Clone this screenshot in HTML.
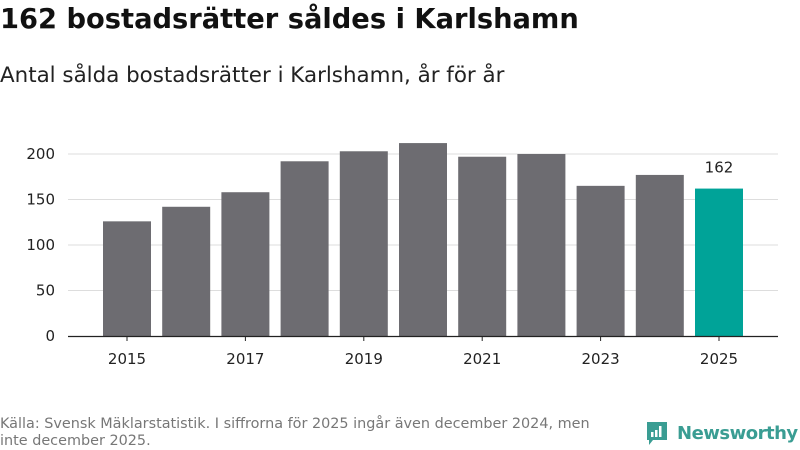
<!DOCTYPE html>
<html><head><meta charset="utf-8"><style>
body{margin:0;width:800px;height:450px;background:#fff;font-family:"DejaVu Sans","Liberation Sans",sans-serif;overflow:hidden;position:relative}
h1{position:absolute;left:0;top:4px;margin:0;font-size:27.3px;font-weight:bold;color:#111}
h2{position:absolute;left:0;top:63px;margin:0;font-size:21.4px;font-weight:normal;color:#222}
.src{position:absolute;left:0;top:416px;font-size:14.4px;color:#777;line-height:17px;width:640px;white-space:nowrap}
.logo{position:absolute;left:645px;top:420px;display:flex;align-items:center;color:#3a9d93;font-size:18px;font-weight:bold;letter-spacing:-0.5px}
</style></head><body>
<h1>162 bostadsrätter såldes i Karlshamn</h1>
<h2>Antal sålda bostadsrätter i Karlshamn, år för år</h2>
<svg id="chart" width="800" height="400" style="position:absolute;left:0;top:0"></svg>
<div class="src">Källa: Svensk Mäklarstatistik. I siffrorna för 2025 ingår även december 2024, men<br>inte december 2025.</div>
<div class="logo"><svg width="24" height="26" viewBox="0 0 24 26"><path d="M2 2h20v18H8l-4 5v-5H2z" fill="#3a9d93"/><rect x="6" y="12" width="2.5" height="5" fill="#fff"/><rect x="10" y="10" width="2.5" height="7" fill="#fff"/><rect x="14" y="6" width="2.5" height="11" fill="#fff"/></svg><span style="margin-left:8px">Newsworthy</span></div>
<script>
const years=[2015,2016,2017,2018,2019,2020,2021,2022,2023,2024,2025];
const values=[126,142,158,192,203,212,197,200,165,177,162];
const yTicks=[0,50,100,150,200];
const xLabels=[2015,2017,2019,2021,2023,2025];
const svg=document.getElementById('chart');
const NS='http://www.w3.org/2000/svg';
const y0=336,ppu=0.91,x0=127,step=59.2,bw=48;
const yS=v=>y0-v*ppu, xS=i=>x0+i*step;
function mk(t,a){const e=document.createElementNS(NS,t);for(const k in a)e.setAttribute(k,a[k]);svg.appendChild(e);return e;}
yTicks.forEach(t=>{
 if(t>0){const l=mk('line',{x1:68,x2:778,y1:yS(t),y2:yS(t),stroke:'#ddd','stroke-width':1});
 
 }
 const tx=mk('text',{x:55,y:yS(t)+5,'text-anchor':'end','font-size':15,fill:'#222'});tx.textContent=t;
 
 
});
values.forEach((v,i)=>{
 const last=i===values.length-1;
 const r=mk('rect',{x:xS(i)-bw/2,y:yS(v),width:bw,height:v*ppu,fill:last?'#00a398':'#6d6c71'});
 
 
 if(last){const t=mk('text',{x:xS(i),y:yS(v)-16,'text-anchor':'middle','font-size':15,fill:'#222'});t.textContent=v;
 
 }
});
const ax=mk('line',{x1:68,x2:778,y1:y0+0.5,y2:y0+0.5,stroke:'#222','stroke-width':1.2});


xLabels.forEach(y=>{
 const i=years.indexOf(y);
 const tk=mk('line',{x1:xS(i),x2:xS(i),y1:y0,y2:y0+5,stroke:'#222'});
 
 
 const t=mk('text',{x:xS(i),y:y0+28,'text-anchor':'middle','font-size':15,fill:'#222'});t.textContent=y;
 
 
});
</script>
</body></html>
